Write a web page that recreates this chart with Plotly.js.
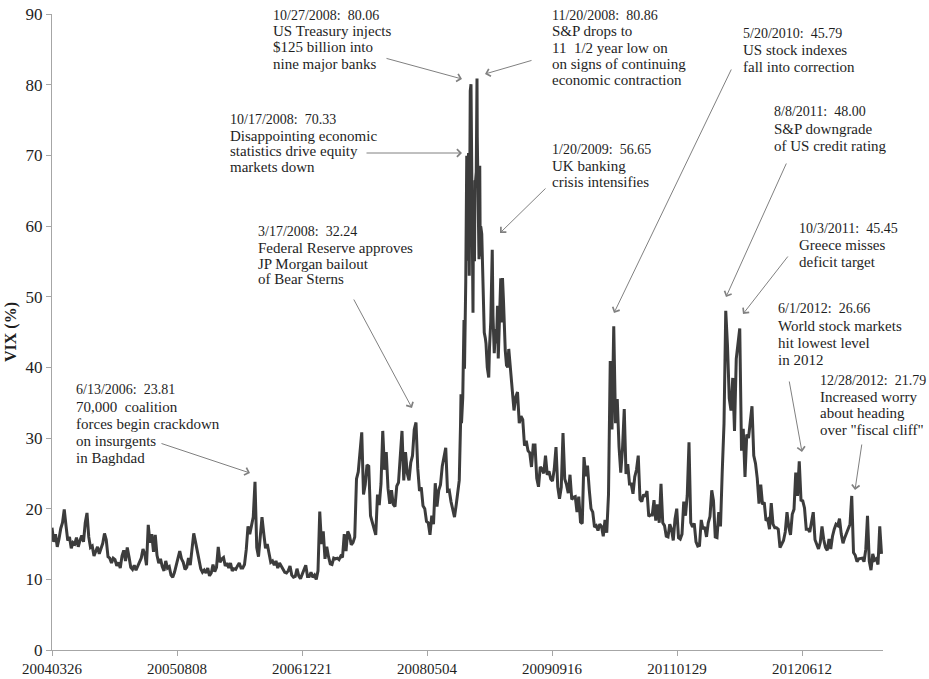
<!DOCTYPE html>
<html><head><meta charset="utf-8">
<script src="https://cdn.plot.ly/plotly-3.0.1.min.js"></script>
<style>html,body{margin:0;padding:0;background:#fff}#chart{width:929px;height:679px}</style>
</head><body><div id="chart"></div>
<script>
// ---------- axis ticks ----------
const tickDates  = ['2004-03-26','2005-08-08','2006-12-21','2008-05-04','2009-09-16','2011-01-29','2012-06-12'];
const tickLabels = ['20040326','20050808','20061221','20080504','20090916','20110129','20120612'];

// ---------- VIX values (weekly, Fridays) ----------
const start2004 = '2004-03-26';
const vix2004 = [17.3,15.3,16.4,14.6,15.7,17.2,18.0,19.9,17.6,15.5,16.0,14.4,15.2,15.0,15.9,14.6,15.5,16.2,15.3,18.0,19.4,16.0,14.5,14.7,13.3,13.9,14.6,13.6,14.4,15.1,16.5,15.6,13.2,13.0,12.3,13.0,12.8,11.9,12.4,11.6,13.3];
const start2005 = '2005-01-07';
const vix2005 = [14.1,12.6,14.5,13.2, 11.7,11.4,12.0,11.3, 11.9,12.5,13.0,14.3, 13.6,12.0,17.7,15.2,16.4, 13.9,16.3,13.4,12.3, 12.9,11.8,11.2,12.6, 11.6,11.8,10.6,10.3,11.0, 12.2,13.0,14.0,12.9, 12.4,11.4,11.7,13.0,12.0, 14.5,16.5,15.3,14.0, 12.3,11.5,11.0,11.3, 10.9,11.6,10.5,10.9,12.1];
const start2006 = '2006-01-06';
const vix2006 = [11.1,11.7,14.6,12.4, 12.9,13.1,11.9,12.3, 11.6,12.3,11.2,11.5,11.4, 11.9,12.3,11.6,11.6, 12.1,14.2,17.5,16.4, 17.6,18.8,23.8,14.5,13.2, 16.0,18.8,16.5,14.4, 15.0,13.5,12.4,12.6, 12.0,12.6,11.6,12.3,11.9, 11.6,11.0,10.9,11.2, 11.9,10.6,10.3,10.4, 11.5,10.5,10.1,10.8,11.6];
const start2007 = '2007-01-05';
const vix2007 = [12.0,10.4,10.4,11.0, 10.3,10.6,10.0,11.2, 19.6,15.0,16.8,12.9,14.6, 13.2,12.2,12.1,13.0, 12.9,13.0,12.8,13.3, 13.1,16.4,14.0,16.8,16.2, 14.9,15.2,16.0,24.2, 25.2,28.0,30.8,22.0,23.4, 26.2,26.0,19.0,18.0, 17.0,16.3,22.0,20.5, 23.5,31.0,25.5,28.0,22.9, 20.7,22.6,20.6,20.3];
const start2008 = '2008-01-04';
const vix2008 = [23.2,23.7,27.2,31.0, 24.0,28.0,25.0,24.0,26.5, 27.5,31.2,32.2,25.7, 22.5,23.0,20.4,20.0, 18.2,18.0,16.3,19.0,17.8, 23.6,20.3,22.6,23.4, 26.0,27.5,28.6,22.5, 22.6,21.0,20.0,18.8,20.6];
// crisis period, several readings per week
const crisisDates = ['2008-09-05','2008-09-10','2008-09-15','2008-09-17','2008-09-19','2008-09-24','2008-09-29','2008-10-01','2008-10-06','2008-10-08','2008-10-10','2008-10-14','2008-10-16','2008-10-17','2008-10-20','2008-10-22','2008-10-24','2008-10-27','2008-10-29','2008-10-31','2008-11-04','2008-11-06','2008-11-10','2008-11-12','2008-11-14','2008-11-17','2008-11-19','2008-11-20','2008-11-21','2008-11-25','2008-11-28','2008-12-01','2008-12-03','2008-12-05','2008-12-09','2008-12-12','2008-12-16','2008-12-19','2008-12-23','2008-12-26','2008-12-31','2009-01-02','2009-01-06','2009-01-09','2009-01-14','2009-01-20','2009-01-23','2009-01-28','2009-02-02','2009-02-06','2009-02-10','2009-02-13','2009-02-18','2009-02-23','2009-02-27','2009-03-02','2009-03-06','2009-03-10','2009-03-13','2009-03-18','2009-03-23','2009-03-27'];
const crisisVix   = [22.6,24.0,31.7,36.2,32.1,35.7,46.7,39.8,52.1,57.5,69.95,55.1,67.6,70.33,52.97,69.65,79.13,80.06,69.96,59.89,47.73,63.68,55.0,66.46,66.31,67.64,74.26,80.86,72.67,60.9,55.28,68.51,55.7,59.93,58.9,54.28,49.0,44.93,44.2,43.38,40.0,39.19,38.56,42.82,46.4,56.65,47.27,42.0,45.4,43.37,48.7,41.25,47.0,52.6,46.35,52.65,49.33,43.0,42.4,40.3,40.0,42.6];
const start2009 = '2009-04-03';
const vix2009 = [39.7,36.5,33.9,35.8, 36.5,32.1,33.1,32.6,28.9, 29.6,28.2,27.9,25.9, 29.0,29.0,24.3,23.1,25.9, 25.6,25.0,27.5,24.8, 25.3,24.2,23.9,25.6, 28.7,23.1,21.4,23.0,30.7, 24.2,23.4,22.2,24.8, 21.3,21.6,21.7,19.5];
const start2010 = '2010-01-01';
const vix2010 = [21.7,18.1,17.9,27.3,24.6, 26.1,22.7,20.0,19.5, 17.4,17.6,16.9,17.8, 17.5,16.1,18.4,16.6,22.0, 40.9,31.2,45.8,32.1, 35.5,28.8,25.1,28.5, 34.1,24.9,26.3,23.5,23.5, 22.1,24.5,25.5,27.5, 21.3,21.0,22.0,21.7, 22.5,18.9,19.1,19.1,21.2, 18.3,20.6,18.0,23.5, 18.0,17.6,16.1,16.0,17.8];
const start2011 = '2011-01-07';
const vix2011 = [17.1,15.5,18.5,20.0, 15.9,15.7,16.4,21.0, 19.0,21.9,29.4,18.0, 17.4,17.9,15.3,14.7,14.8, 18.4,17.1,17.4,16.0, 18.0,18.9,22.6,21.1, 16.0,15.9,19.5,17.5,25.3, 32.0,48.0,43.0,35.6, 33.9,38.5,31.0,41.2,43.0, 45.5,28.2,31.3,24.5, 30.5,30.0,32.0,34.5, 27.5,26.4,24.3,20.7,23.4];
const start2012 = '2012-01-06';
const vix2012 = [20.6,20.9,18.3,18.5, 17.1,20.8,17.8,17.3, 17.3,17.1,14.5,15.0,15.5, 16.7,19.5,17.4,16.3, 19.2,19.9,25.1,21.8, 26.7,21.2,21.1,20.1,17.1, 17.1,16.7,18.0,19.5, 15.6,15.0,14.3,15.2,17.5, 15.6,14.5,14.1,15.7, 14.3,16.1,17.1,17.8, 17.6,18.6,16.4,15.1,15.9, 16.6,17.0,17.8,21.8];
const start2013 = '2013-01-04';
const vix2013 = [13.8,13.4,12.5,12.9, 12.9,13.0,12.5,14.2, 19.0,12.6,11.3,13.6,12.7, 12.9,12.1,17.5,13.6];

// ---------- annotation texts ----------
const noteA = ['10/27/2008:\u00a0 80.06','US Treasury injects','$125 billion into','nine major banks'];
const noteB = ['10/17/2008:\u00a0 70.33','Disappointing economic','statistics drive equity','markets down'];
const noteC = ['3/17/2008:\u00a0 32.24','Federal Reserve approves','JP Morgan bailout','of Bear Sterns'];
const noteD = ['6/13/2006:\u00a0 23.81','70,000\u00a0 coalition','forces begin crackdown','on insurgents','in Baghdad'];
const noteE = ['11/20/2008:\u00a0 80.86','S&P drops to','11\u00a0 1/2 year low on','on signs of continuing','economic contraction'];
const noteF = ['1/20/2009:\u00a0 56.65','UK banking','crisis intensifies'];
const noteG = ['5/20/2010:\u00a0 45.79','US stock indexes','fall into correction'];
const noteH = ['8/8/2011:\u00a0 48.00','S&P downgrade','of US credit rating'];
const noteI = ['10/3/2011:\u00a0 45.45','Greece misses','deficit target'];
const noteJ = ['6/1/2012:\u00a0 26.66','World stock markets','hit lowest level','in 2012'];
const noteK = ['12/28/2012:\u00a0 21.79','Increased worry','about heading','over "fiscal cliff"'];

// ---------- build series ----------
function weekly(start, vals) {
  const t0 = Date.parse(start + 'T00:00:00Z');
  return vals.map((v, i) => new Date(t0 + i * 7 * 864e5).toISOString().slice(0, 10));
}
const xs = [].concat(
  weekly(start2004, vix2004), weekly(start2005, vix2005), weekly(start2006, vix2006),
  weekly(start2007, vix2007), weekly(start2008, vix2008), crisisDates,
  weekly(start2009, vix2009), weekly(start2010, vix2010), weekly(start2011, vix2011),
  weekly(start2012, vix2012), weekly(start2013, vix2013));
const ys = [].concat(vix2004, vix2005, vix2006, vix2007, vix2008, crisisVix,
  vix2009, vix2010, vix2011, vix2012, vix2013);

// ---------- layout geometry ----------
const W = 929, H = 679, L = 52, R = 883, T = 14, B = 650;
const px = x => (x - L) / (R - L);
const py = y => (B - y) / (B - T);
const serif = 'Liberation Serif, Times New Roman, serif';

const blocks = [
  {lines: noteA, left: 273, y0: 15,    dy: 16.2},
  {lines: noteB, left: 230, y0: 120,   dy: 15.7},
  {lines: noteC, left: 258, y0: 231.7, dy: 15.9},
  {lines: noteD, left: 76,  y0: 389.3, dy: 17.2},
  {lines: noteE, left: 551.7, y0: 15,  dy: 16.3},
  {lines: noteF, left: 551.7, y0: 150, dy: 15.9},
  {lines: noteG, left: 742.7, y0: 33.3, dy: 17},
  {lines: noteH, left: 774, y0: 111.7, dy: 17},
  {lines: noteI, left: 799.3, y0: 228.3, dy: 16.7},
  {lines: noteJ, left: 778.3, y0: 308.3, dy: 17.2},
  {lines: noteK, left: 820, y0: 380, dy: 16.7}
];
const arrows = [
  {tx: 385, ty: 58,  hx: 462, hy: 79},
  {tx: 533, ty: 60,  hx: 485, hy: 74},
  {tx: 365, ty: 153, hx: 462, hy: 153},
  {tx: 547, ty: 187, hx: 500, hy: 233},
  {tx: 353, ty: 298, hx: 412, hy: 408},
  {tx: 160, ty: 443, hx: 250, hy: 473},
  {tx: 732, ty: 68,  hx: 614, hy: 313},
  {tx: 787, ty: 162, hx: 726, hy: 297},
  {tx: 789, ty: 255, hx: 743, hy: 314},
  {tx: 789, ty: 380, hx: 802, hy: 452},
  {tx: 862, ty: 443, hx: 855, hy: 490}
];

const annotations = [];
blocks.forEach(b => b.lines.forEach((t, i) => annotations.push({
  xref: 'paper', yref: 'paper', x: px(b.left - 2), y: py(b.y0 + i * b.dy),
  xanchor: 'left', yanchor: 'middle', text: t, showarrow: false,
  font: {family: serif, size: i === 0 ? 14 : 15, color: '#1e1e1e'}
})));
arrows.forEach(a => annotations.push({
  xref: 'paper', yref: 'paper', x: px(a.hx), y: py(a.hy),
  ax: a.tx - a.hx, ay: a.ty - a.hy, text: '', showarrow: true,
  arrowhead: 4, arrowsize: 1.5, arrowwidth: 1, arrowcolor: '#808080', standoff: 0
}));

const trace = {
  x: xs, y: ys, type: 'scatter', mode: 'lines',
  line: {color: '#3c3c3c', width: 3},
  hoverinfo: 'skip'
};

const layout = {
  width: W, height: H,
  margin: {l: L, r: W - R, t: T, b: H - B, pad: 0},
  paper_bgcolor: '#ffffff', plot_bgcolor: '#ffffff',
  showlegend: false,
  font: {family: serif, color: '#1e1e1e'},
  xaxis: {
    type: 'date', range: ['2004-03-26', '2013-05-02'],
    tickmode: 'array', tickvals: tickDates, ticktext: tickLabels,
    ticks: 'outside', ticklen: 5, tickcolor: '#a6a6a6', tickwidth: 1,
    showline: true, linecolor: '#a6a6a6', linewidth: 1,
    showgrid: false, zeroline: false,
    tickfont: {family: serif, size: 15, color: '#1e1e1e'}
  },
  yaxis: {
    range: [0, 90], tickmode: 'linear', tick0: 0, dtick: 10,
    ticks: 'outside', ticklen: 5, tickcolor: '#a6a6a6', tickwidth: 1,
    showline: true, linecolor: '#a6a6a6', linewidth: 1,
    showgrid: false, zeroline: false,
    tickfont: {family: serif, size: 17, color: '#1e1e1e'},
    title: {text: '<b>VIX (%)</b>', font: {family: serif, size: 16, color: '#1e1e1e'}, standoff: 4}
  },
  annotations: annotations
};

Plotly.newPlot('chart', [trace], layout, {staticPlot: true, displayModeBar: false});
</script>
</body></html>
